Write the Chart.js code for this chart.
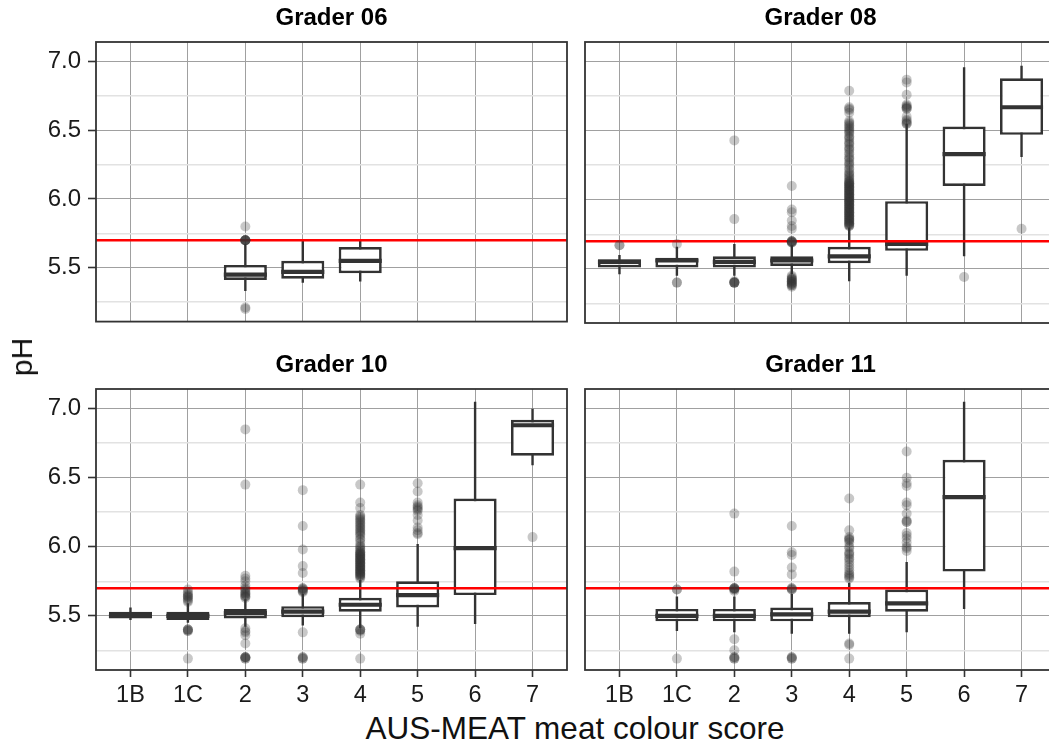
<!DOCTYPE html>
<html>
<head>
<meta charset="utf-8">
<title>pH by AUS-MEAT meat colour score and grader</title>
<script src="https://cdn.jsdelivr.net/npm/chart.js@4.4.1/dist/chart.umd.min.js"></script>
<style>
  html, body { margin: 0; padding: 0; background: #fff; }
  body { position: relative; width: 1049px; height: 749px; overflow: hidden;
         font-family: 'Liberation Sans', Arial, Helvetica, sans-serif; }
  canvas { position: absolute; }
  #ylab { position: absolute; left: 22px; top: 357px; font-size: 30px; line-height: 1;
          transform: translate(-50%, -50%) rotate(-90deg); white-space: nowrap; color: #111; }
  #xlab { position: absolute; left: 575px; top: 729px; font-size: 31.5px; line-height: 1;
          transform: translate(-50%, -50%); white-space: nowrap; color: #111; }
</style>
</head>
<body>
<canvas id="g06" width="575" height="343" style="left:0;top:0"></canvas>
<canvas id="g08" width="484" height="343" style="left:580px;top:0"></canvas>
<canvas id="g10" width="575" height="365" style="left:0;top:345px"></canvas>
<canvas id="g11" width="484" height="365" style="left:580px;top:345px"></canvas>
<div id="ylab">pH</div>
<div id="xlab">AUS-MEAT meat colour score</div>
<script>
// Colour score categories (x axis) and pH ticks (y axis)
const categories = ['1B', '1C', '2', '3', '4', '5', '6', '7'];
const yTicks = [5.25, 5.5, 5.75, 6.0, 6.25, 6.5, 6.75, 7.0];
const yLabelled = [5.5, 6.0, 6.5, 7.0];
const phThreshold = 5.7;
const yRange = [5.1075, 7.1425];
const graders = ['Grader 06', 'Grader 08', 'Grader 10', 'Grader 11'];

// Box statistics per colour score: [lower whisker, Q1, median, Q3, upper whisker]; null = no carcasses
const grader06Stats = [null, null,
  [5.33, 5.41, 5.45, 5.52, 5.67],
  [5.39, 5.42, 5.47, 5.55, 5.70],
  [5.40, 5.46, 5.55, 5.65, 5.70],
  null, null, null];
const grader06Outliers = [[], [],
  [5.80, 5.70, 5.70, 5.70, 5.70, 5.70, 5.70, 5.70, 5.21, 5.20],
  [], [], [], [], []];

const grader08Stats = [
  [5.46, 5.51, 5.55, 5.57, 5.60],
  [5.45, 5.51, 5.56, 5.58, 5.66],
  [5.45, 5.51, 5.55, 5.59, 5.68],
  [5.46, 5.52, 5.56, 5.59, 5.67],
  [5.41, 5.54, 5.59, 5.66, 5.80],
  [5.45, 5.63, 5.68, 5.99, 6.55],
  [5.59, 6.10, 6.33, 6.53, 6.96],
  [6.31, 6.47, 6.67, 6.88, 6.97]];
const grader08Outliers = [
  [5.67, 5.67],
  [5.68, 5.40, 5.40],
  [6.43, 5.86, 5.41, 5.40, 5.40, 5.40, 5.40, 5.40],
  [6.10, 5.93, 5.91, 5.85, 5.81, 5.79, 5.70, 5.70, 5.69, 5.69, 5.69, 5.70, 5.70,
   5.45, 5.44, 5.43, 5.43, 5.42, 5.42, 5.41, 5.41, 5.40, 5.40, 5.39, 5.39, 5.38, 5.38, 5.37],
  [6.79, 6.67, 6.66, 6.65, 6.63, 6.57, 6.56, 6.55, 6.54, 6.53, 6.52, 6.51, 6.50, 6.49, 6.48,
   6.46, 6.45, 6.44, 6.42, 6.41, 6.40, 6.38, 6.37, 6.36, 6.34, 6.33, 6.31, 6.30, 6.29, 6.27,
   6.26, 6.25, 6.23, 6.22, 6.20, 6.19, 6.18, 6.17, 6.16, 6.15, 6.14, 6.13, 6.13, 6.12, 6.12,
   6.11, 6.11, 6.10, 6.10, 6.09, 6.09, 6.08, 6.08, 6.07, 6.07, 6.06, 6.06, 6.05, 6.05, 6.04,
   6.04, 6.03, 6.03, 6.02, 6.02, 6.01, 6.01, 6.00, 6.00, 5.99, 5.99, 5.98, 5.98, 5.97, 5.97,
   5.96, 5.96, 5.95, 5.95, 5.94, 5.94, 5.93, 5.93, 5.92, 5.92, 5.91, 5.91, 5.90, 5.90, 5.89,
   5.89, 5.88, 5.88, 5.87, 5.87, 5.86, 5.86, 5.85, 5.85, 5.84, 5.84, 5.83, 5.83, 5.82, 5.82,
   5.81, 5.81],
  [6.87, 6.85, 6.76, 6.69, 6.68, 6.67, 6.67, 6.66, 6.66, 6.60, 6.58, 6.57, 6.56, 6.55, 6.55],
  [5.44],
  [5.79]];

const grader10Stats = [
  [5.47, 5.48, 5.50, 5.53, 5.56],
  [5.45, 5.47, 5.50, 5.53, 5.59],
  [5.42, 5.48, 5.52, 5.55, 5.62],
  [5.43, 5.49, 5.53, 5.57, 5.66],
  [5.41, 5.53, 5.58, 5.63, 5.76],
  [5.42, 5.56, 5.65, 5.75, 6.02],
  [5.44, 5.65, 5.99, 6.35, 7.05],
  [6.59, 6.66, 6.88, 6.92, 7.00]];
const grader10Outliers = [
  [],
  [5.69, 5.67, 5.66, 5.65, 5.64, 5.64, 5.63, 5.62, 5.61, 5.60, 5.40, 5.39, 5.39, 5.40, 5.40, 5.19],
  [6.85, 6.45, 5.79, 5.77, 5.75, 5.72, 5.70, 5.69, 5.68, 5.67, 5.66, 5.66, 5.65, 5.64, 5.64, 5.63,
   5.41, 5.39, 5.38, 5.36, 5.30, 5.20, 5.20, 5.19, 5.19, 5.20, 5.20],
  [6.41, 6.15, 5.98, 5.86, 5.81, 5.70, 5.70, 5.69, 5.69, 5.68, 5.68, 5.67, 5.38, 5.19, 5.19, 5.20, 5.20],
  [6.45, 6.32, 6.28, 6.23, 6.22, 6.21, 6.20, 6.19, 6.18, 6.17, 6.16, 6.15, 6.14, 6.13, 6.12,
   6.11, 6.10, 6.09, 6.08, 6.06, 6.05, 6.03, 6.01, 6.00, 5.99, 5.98, 5.97, 5.96, 5.96, 5.95,
   5.95, 5.94, 5.94, 5.93, 5.93, 5.92, 5.92, 5.91, 5.91, 5.90, 5.90, 5.89, 5.89, 5.88, 5.88,
   5.87, 5.87, 5.86, 5.86, 5.85, 5.85, 5.84, 5.84, 5.83, 5.83, 5.82, 5.82, 5.81, 5.81, 5.80,
   5.80, 5.79, 5.79, 5.78, 5.77, 5.40, 5.40, 5.40, 5.39, 5.37, 5.19],
  [6.46, 6.40, 6.32, 6.30, 6.29, 6.28, 6.27, 6.26, 6.23, 6.19, 6.14, 6.12, 6.10, 6.09],
  [],
  [6.07]];

const grader11Stats = [
  null,
  [5.39, 5.46, 5.50, 5.55, 5.64],
  [5.38, 5.46, 5.50, 5.55, 5.64],
  [5.37, 5.46, 5.51, 5.56, 5.66],
  [5.37, 5.49, 5.53, 5.60, 5.74],
  [5.38, 5.53, 5.59, 5.69, 5.89],
  [5.55, 5.82, 6.36, 6.63, 7.05],
  null];
const grader11Outliers = [
  [],
  [5.69, 5.69, 5.19],
  [6.24, 5.82, 5.70, 5.70, 5.70, 5.70, 5.69, 5.69, 5.68, 5.33, 5.25, 5.19, 5.19, 5.20, 5.20],
  [6.15, 5.96, 5.94, 5.85, 5.80, 5.70, 5.70, 5.69, 5.69, 5.19, 5.19, 5.20, 5.20],
  [6.35, 6.12, 6.07, 6.06, 6.05, 6.05, 6.03, 6.00, 5.99, 5.96, 5.95, 5.94, 5.92, 5.91, 5.89,
   5.87, 5.85, 5.83, 5.81, 5.80, 5.79, 5.78, 5.77, 5.30, 5.29, 5.19],
  [6.69, 6.50, 6.46, 6.44, 6.32, 6.30, 6.24, 6.19, 6.18, 6.18, 6.10, 6.08, 6.06, 6.03, 6.00, 5.99, 5.97],
  [],
  []];

// ---- drawing ----
const FONT = "'Liberation Sans', Arial, Helvetica, sans-serif";
Chart.defaults.font.family = FONT;
const X_MIN = 0.4, X_MAX = categories.length + 0.6;   // discrete axis with 0.6 expansion
const BOX_WIDTH = 0.75;
const INK = '#333333';
const MAJOR = '#a0a0a0', MINOR = '#e2e2e2';
const isMajorY = v => yLabelled.some(t => Math.abs(t - v) < 1e-9);

function buildDatasets(stats, outliers) {
  const boxes = [], whiskers = [], medians = [], points = [];
  stats.forEach((s, i) => {
    const x = i + 1;
    if (s) {
      const [lo, q1, med, q3, hi] = s;
      boxes.push({ x, y: [q1, q3] });
      whiskers.push({ x, y: lo }, { x, y: hi }, { x, y: null });
      medians.push({ x: x - BOX_WIDTH / 2, y: med }, { x: x + BOX_WIDTH / 2, y: med }, { x, y: null });
    }
    outliers[i].forEach(v => points.push({ x, y: v }));
  });
  return [
    { type: 'scatter', data: points, order: 0, pointRadius: 5, pointHoverRadius: 5,
      backgroundColor: 'rgba(51,51,51,0.27)', pointBackgroundColor: 'rgba(51,51,51,0.27)',
      borderWidth: 0, pointBorderWidth: 0 },
    { type: 'line', data: [{ x: X_MIN, y: phThreshold }, { x: X_MAX, y: phThreshold }], order: 1,
      borderColor: '#ff0000', borderWidth: 2.6, pointRadius: 0, fill: false },
    { type: 'line', data: medians, order: 2, borderColor: INK, borderWidth: 4.2, pointRadius: 0,
      spanGaps: false, borderCapStyle: 'butt', fill: false },
    { type: 'bar', data: boxes, order: 3, backgroundColor: '#ffffff', borderColor: INK,
      borderWidth: 2.7, borderSkipped: false, barPercentage: BOX_WIDTH, categoryPercentage: 1,
      inflateAmount: 0 },
    { type: 'line', data: whiskers, order: 4, borderColor: INK, borderWidth: 2.4, pointRadius: 0,
      spanGaps: false, fill: false }
  ];
}

const panelFrame = {
  id: 'panelFrame',
  afterDraw(chart) {
    const { ctx, chartArea: a } = chart;
    ctx.save();
    ctx.strokeStyle = INK;
    ctx.lineWidth = 1.8;
    ctx.strokeRect(a.left, a.top, a.right - a.left, a.bottom - a.top);
    ctx.restore();
  }
};

function makePanel(id, title, stats, outliers, cfg) {
  new Chart(document.getElementById(id), {
    type: 'scatter',
    data: { datasets: buildDatasets(stats, outliers) },
    plugins: [panelFrame],
    options: {
      responsive: false,
      devicePixelRatio: 1,
      animation: false,
      events: [],
      layout: { padding: { left: 0, right: 8, top: 0, bottom: 0 } },
      plugins: {
        legend: { display: false },
        tooltip: { enabled: false },
        title: {
          display: true, text: title, fullSize: false, color: '#000',
          font: { family: FONT, size: 24, weight: 'bold' },
          padding: { top: cfg.titleTop, bottom: cfg.titleBottom }
        }
      },
      scales: {
        x: {
          type: 'linear', min: X_MIN, max: X_MAX, offset: false,
          afterBuildTicks: s => { s.ticks = categories.map((_, i) => ({ value: i + 1 })); },
          afterFit: s => { s.height = cfg.xHeight; },
          border: { display: false },
          grid: { offset: false, color: MAJOR, lineWidth: 1, drawTicks: cfg.xLabels, tickLength: 7,
                  tickColor: INK, tickWidth: 1.6 },
          ticks: { display: cfg.xLabels, autoSkip: false, maxRotation: 0, padding: 4,
                   color: '#1a1a1a', font: { size: 23.5 },
                   callback: v => categories[Math.round(v) - 1] ?? '' }
        },
        y: {
          type: 'linear', min: yRange[0], max: yRange[1], offset: false,
          afterBuildTicks: s => { s.ticks = yTicks.map(v => ({ value: v })); },
          afterFit: s => { s.width = cfg.yWidth; },
          border: { display: false },
          grid: {
            offset: false,
            color: c => isMajorY(c.tick.value) ? MAJOR : MINOR,
            lineWidth: c => isMajorY(c.tick.value) ? 1 : 1.5,
            drawTicks: cfg.yLabels, tickLength: 8, tickWidth: 1.6,
            tickColor: c => isMajorY(c.tick.value) ? INK : 'rgba(0,0,0,0)'
          },
          ticks: { display: cfg.yLabels, padding: 7, color: '#1a1a1a', font: { size: 24 },
                   callback: v => isMajorY(v) ? v.toFixed(1) : '' }
        }
      }
    }
  });
}

const topRow = { titleTop: 3.6, titleBottom: 9.6, xHeight: 20, xLabels: false };
const bottomRow = { titleTop: 5.6, titleBottom: 9.6, xHeight: 40, xLabels: true };

makePanel('g06', graders[0], grader06Stats, grader06Outliers, { ...topRow, yLabels: true, yWidth: 96 });
makePanel('g08', graders[1], grader08Stats, grader08Outliers, { ...topRow, yLabels: false, yWidth: 4 });
makePanel('g10', graders[2], grader10Stats, grader10Outliers, { ...bottomRow, yLabels: true, yWidth: 96 });
makePanel('g11', graders[3], grader11Stats, grader11Outliers, { ...bottomRow, yLabels: false, yWidth: 4 });
</script>
</body>
</html>
